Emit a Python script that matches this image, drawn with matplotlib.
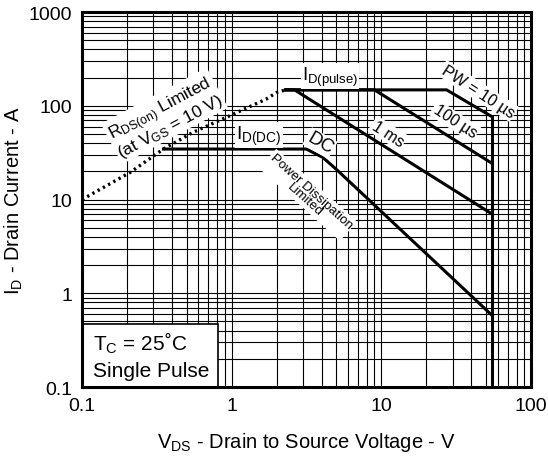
import numpy as np
import matplotlib
matplotlib.use("Agg")
import matplotlib.pyplot as plt
from matplotlib.patches import Rectangle

plt.rcParams['font.family'] = ['Liberation Sans', 'DejaVu Sans']
plt.rcParams['mathtext.fontset'] = 'custom'
plt.rcParams['mathtext.rm'] = 'Liberation Sans'
plt.rcParams['mathtext.it'] = 'Liberation Sans:italic'

# Safe operating area data
# RDS(on) limit (dotted)
rds_v = [0.1, 0.21, 0.35, 0.55, 1.0, 1.7, 2.0, 2.3]
rds_i = [10, 19.5, 34.6, 52, 80, 118, 139, 148]

# pulse limits
pw10_v = [2.3, 27.3, 55]
pw10_i = [148, 148, 76.4]
pw100_v = [2.3, 9.0, 55]
pw100_i = [148, 148, 24.3]
pw1ms_v = [2.3, 2.63, 55]
pw1ms_i = [148, 148, 7.0]

# DC limit
dc_v = [0.35, 3.15, 4.06, 4.99, 55]
dc_i = [34.6, 34.6, 28.2, 21.1, 0.58]

# breakdown voltage limit
bv_v = [55, 55]
bv_i = [76.4, 0.1]

xticks = [0.1, 1, 10, 100]
xticklabels = ['0.1', '1', '10', '100']
yticks = [0.1, 1, 10, 100, 1000]
yticklabels = ['0.1', '1', '10', '100', '1000']

fig = plt.figure(figsize=(5.48, 4.6), dpi=100)
ax = fig.add_axes([0.1496, 0.1565, 0.8194, 0.815])

ax.set_xscale('log')
ax.set_yscale('log')
ax.set_xlim(0.1, 100)
ax.set_ylim(0.1, 1000)

ax.grid(True, which='both', color='black', lw=0.8)
ax.set_axisbelow(True)

lw = 2.2
ax.plot(rds_v, rds_i, color='black', lw=2.4, ls=(0, (0.7, 1.1)), zorder=3)
ax.plot(pw10_v, pw10_i, color='black', lw=lw, zorder=3)
ax.plot(pw100_v, pw100_i, color='black', lw=lw, zorder=3)
ax.plot(pw1ms_v, pw1ms_i, color='black', lw=lw, zorder=3)
ax.plot(dc_v, dc_i, color='black', lw=lw, zorder=3)
ax.plot(bv_v, bv_i, color='black', lw=lw, zorder=3)

ax.set_xticks(xticks)
ax.set_xticklabels(xticklabels)
ax.set_yticks(yticks)
ax.set_yticklabels(yticklabels)
ax.tick_params(which='both', length=0, labelsize=14)
ax.tick_params(axis='x', pad=7)
ax.tick_params(axis='y', pad=7)
for s in ax.spines.values():
    s.set_linewidth(2.2)
    s.set_zorder(5)

ax.set_xlabel(r'V$_{\mathrm{DS}}$ - Drain to Source Voltage - V', fontsize=14.5, labelpad=12)
ax.set_ylabel(r'I$_{\mathrm{D}}$ - Drain Current - A', fontsize=14.5, labelpad=3)

wb = dict(facecolor='white', edgecolor='none', pad=1.0)
ax.text(0.359, 76, 'R$_{\\mathrm{DS(on)}}$ Limited\n(at V$_{\\mathrm{GS}}$ = 10 V)', fontsize=12.5,
        rotation=28, ha='center', va='center', rotation_mode='anchor',
        linespacing=0.9, bbox=wb, zorder=4)
ax.text(4.54, 207, r'I$_{\mathrm{D(pulse)}}$', fontsize=13.5, ha='center', va='center',
        bbox=wb, zorder=4)
ax.text(44.3, 144, 'PW = 10 µs', fontsize=11.5, rotation=-33, ha='center', va='center',
        rotation_mode='anchor', bbox=wb, zorder=4)
ax.text(31, 68.7, '100 µs', fontsize=11.5, rotation=-33, ha='center', va='center',
        rotation_mode='anchor', bbox=wb, zorder=4)
ax.text(11.1, 51, '1 ms', fontsize=11.5, rotation=-33, ha='center', va='center',
        rotation_mode='anchor', bbox=wb, zorder=4)
ax.text(3.89, 40, 'DC', fontsize=13.5, rotation=-30, ha='center', va='center',
        rotation_mode='anchor', bbox=wb, zorder=4)
ax.text(1.52, 48.8, r'I$_{\mathrm{D(DC)}}$', fontsize=14, ha='center', va='center',
        bbox=wb, zorder=4)
ax.text(3.24, 11.2, 'Power Dissipation\nLimited', fontsize=9.5, rotation=-42,
        ha='center', va='center', rotation_mode='anchor', linespacing=0.9,
        bbox=wb, zorder=4)

# Tc box in the lower left corner
ax.add_patch(Rectangle((0, 0), 0.303, 0.168, transform=ax.transAxes,
                       facecolor='white', edgecolor='black', lw=1.2, zorder=4))
ax.text(0.0245, 0.100, r'T$_{\mathrm{C}}$ = 25˚C', transform=ax.transAxes,
        fontsize=15, ha='left', va='baseline', zorder=5)
ax.text(0.0245, 0.030, 'Single Pulse', transform=ax.transAxes,
        fontsize=15, ha='left', va='baseline', zorder=5)

fig.savefig('out.png', dpi=100)
